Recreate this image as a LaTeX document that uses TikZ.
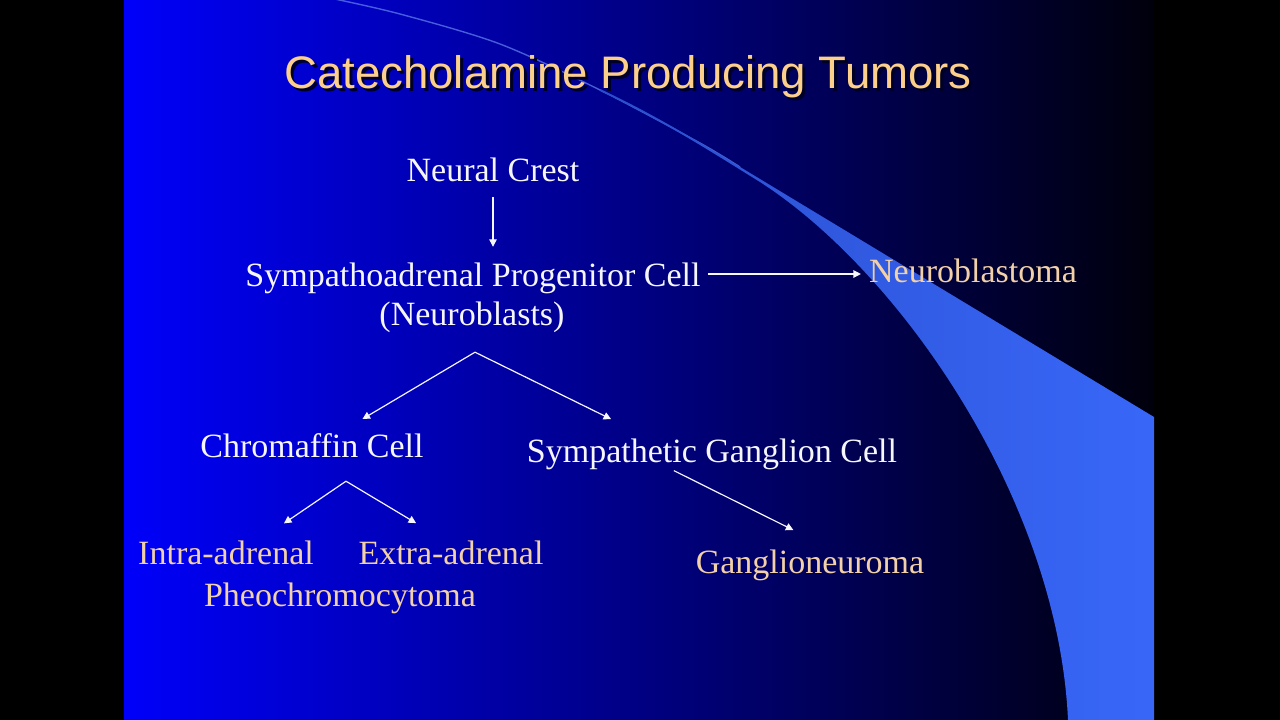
\documentclass[tikz,border=0pt]{standalone}
\usepackage{fontspec}
\setmainfont{Liberation Serif}
\newfontfamily\titlefont{Liberation Sans}
\usetikzlibrary{arrows.meta}

\definecolor{slideleft}{RGB}{0,0,250}
\definecolor{slidemid}{RGB}{0,0,206}
\definecolor{slideright}{RGB}{0,0,12}
\definecolor{swooshdark}{RGB}{42,78,205}
\definecolor{swooshlight}{RGB}{56,103,248}
\definecolor{swooshline}{RGB}{95,125,235}
\definecolor{titletan}{RGB}{252,208,138}
\definecolor{tumortan}{RGB}{242,208,168}
\definecolor{cellwhite}{RGB}{246,246,255}

\tikzset{
  celltext/.style={font=\fontsize{34}{39}\selectfont, text=cellwhite, inner sep=0pt,
    anchor=base, text height=24pt, text depth=8pt},
  tumortext/.style={celltext, text=tumortan},
  titletext/.style={font=\titlefont\fontsize{45.6}{50}\selectfont, inner sep=0pt, anchor=base},
  arr/.style={draw=cellwhite, line width=1.2pt, -{Triangle[length=7.5pt,width=7.5pt]}}
}

\begin{document}
\begin{tikzpicture}[x=1pt, y=-1pt]
            \useasboundingbox (0,0) rectangle (1280,720);
            % Fondo
            \fill[black] (0,0) rectangle (1280,720);
            \shade[left color=slideleft, middle color=slidemid, right color=slideright] (124,0) rectangle (1154,720);

            % Curva clara
            \draw[swooshline, line width=1.4pt, opacity=0.75] plot[smooth] coordinates {(330,-2) (400,14) (500,44) (600,90) (700,143) (740,167)};
            \shade[left color=swooshdark, right color=swooshlight]
                (600,89) .. controls (660,117) and (710,149) .. (760,179) -- (1154,417)
                -- (1154,720) -- (1068,720)
                .. controls (1058,500) and (900,272) .. (760,182)
                .. controls (710,151) and (660,119) .. (600,91) -- cycle;

            % Titulo
            \node[titletext, text=black!85!blue] (titleshadow) at (631,91) {Catecholamine Producing Tumors};
            \node[titletext, text=titletan] (title) at (628,88) {Catecholamine Producing Tumors};

            % Celulas
            \node[celltext] (nc) at (493,181) {Neural Crest};
            \node[celltext] (spc) at (473,286) {Sympathoadrenal Progenitor Cell};
            \node[celltext] (nbl) at (472,325) {(Neuroblasts)};
            \node[celltext] (cc) at (312,457) {Chromaffin Cell};
            \node[celltext] (sgc) at (712,462) {Sympathetic Ganglion Cell};

            % Tumores
            \node[tumortext] (nb) at (973,282) {Neuroblastoma};
            \node[tumortext] (ia) at (226,564) {Intra-adrenal};
            \node[tumortext] (ea) at (451,564) {Extra-adrenal};
            \node[tumortext] (pheo) at (340,606) {Pheochromocytoma};
            \node[tumortext] (gn) at (810,573) {Ganglioneuroma};

            % Flechas
            \draw[arr, shorten <=8pt, shorten >=15pt] (nc.south) -- (nc.south |- spc.north);
            \draw[arr, shorten <=7pt, shorten >=8pt] (spc.east |- nb.west) -- (nb.west);
            \coordinate (fork1) at ([xshift=3pt,yshift=-19pt]nbl.south);
            \draw[arr, shorten >=27pt] (fork1) -- (cc);
            \draw[arr, shorten >=79pt] (fork1) -- ([xshift=-30pt]sgc.center);
            \coordinate (fork2) at ([xshift=34pt,yshift=-16pt]cc.south);
            \draw[arr, shorten >=58pt] (fork2) -- ([xshift=10pt]ia.center);
            \draw[arr, shorten >=64pt] (fork2) -- ([xshift=20pt]ea.center);
            \draw[arr, shorten <=1pt, shorten >=42pt] ([xshift=-39pt]sgc.south) -- ([xshift=21pt]gn.north);
        \end{tikzpicture}
\end{document}
